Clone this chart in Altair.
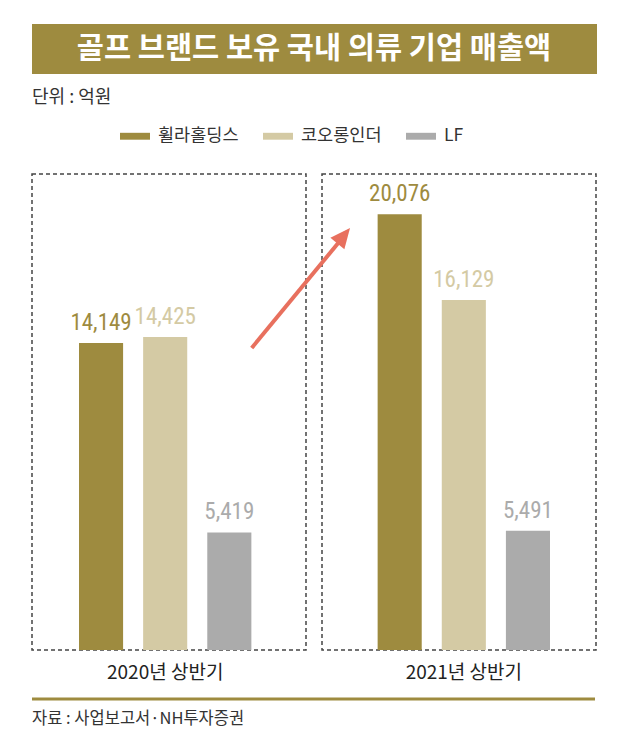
import altair as alt
import pandas as pd

# ---- data ----
periods = ["2020년 상반기", "2021년 상반기"]
companies = ["휠라홀딩스", "코오롱인더", "LF"]
sales_2020 = [14149, 14425, 5419]
sales_2021 = [20076, 16129, 5491]

title_text = "골프 브랜드 보유 국내 의류 기업 매출액"
unit_text = "단위 : 억원"
source_text = "자료 : 사업보고서·NH투자증권"

# ---- styles ----
bar_colors = ["#9e8b3f", "#d4caa4", "#ababab"]
OLIVE = "#9e8b3f"
FONT = "Noto Sans CJK KR"
NUM_FONT = "Roboto Condensed, Roboto, sans-serif"

rows = []
for p, vals in zip(periods, [sales_2020, sales_2021]):
    for c, v in zip(companies, vals):
        rows.append({"period": p, "company": c, "value": v, "label": f"{v:,}"})
df = pd.DataFrame(rows)
one = pd.DataFrame({"k": [0]})

x_enc = alt.X("period:N", sort=periods, axis=None,
              scale=alt.Scale(range=[71, 542], paddingInner=0.4228, paddingOuter=0))
xo_enc = alt.XOffset("company:N", sort=companies,
                     scale=alt.Scale(paddingInner=0.3125, paddingOuter=0))
y_enc = alt.Y("value:Q", axis=None,
              scale=alt.Scale(domain=[0, 20000], range=[642, 208]))
color_enc = alt.Color(
    "company:N", sort=companies,
    scale=alt.Scale(domain=companies, range=bar_colors),
    legend=alt.Legend(
        title=None, orient="none", legendX=112, legendY=113,
        direction="horizontal", symbolType="M-1,-0.23H1V0.23H-1Z",
        symbolSize=900, symbolStrokeWidth=0, symbolOpacity=1,
        labelFont=FONT, labelFontSize=17.5, labelColor="#333333",
        labelOffset=8, columnPadding=24,
    ),
)

bars = alt.Chart(df).mark_bar().encode(x=x_enc, xOffset=xo_enc, y=y_enc, color=color_enc)

labels = alt.Chart(df).mark_text(
    dy=-13, baseline="alphabetic", fontSize=23, font=NUM_FONT, fontWeight="normal"
).encode(x=x_enc, xOffset=xo_enc, y=y_enc, text="label:N", color=color_enc)

cats = alt.Chart(pd.DataFrame({"period": periods})).mark_text(
    fontSize=19, font=FONT, color="#222222", baseline="middle"
).encode(x=x_enc, y=alt.value(665), text="period:N")

banner = alt.Chart(one).mark_rect(color=OLIVE).encode(
    x=alt.value(24), x2=alt.value(589), y=alt.value(16), y2=alt.value(66))
title = alt.Chart(one).mark_text(
    text=title_text, font=FONT, fontSize=29.5, fontWeight="bold", color="white",
    align="center", baseline="middle"
).encode(x=alt.value(306), y=alt.value(41))

unit = alt.Chart(one).mark_text(
    text=unit_text, font=FONT, fontSize=18, color="#333333",
    align="left", baseline="middle"
).encode(x=alt.value(24), y=alt.value(90))

box1 = alt.Chart(one).mark_rect(
    fillOpacity=0, stroke="#444444", strokeWidth=1.5, strokeDash=[4, 3]
).encode(x=alt.value(24), x2=alt.value(298), y=alt.value(166), y2=alt.value(642))
box2 = alt.Chart(one).mark_rect(
    fillOpacity=0, stroke="#444444", strokeWidth=1.5, strokeDash=[4, 3]
).encode(x=alt.value(314), x2=alt.value(588), y=alt.value(166), y2=alt.value(642))

ARROW = "#e8705e"
arrow_line = alt.Chart(one).mark_rule(color=ARROW, strokeWidth=4).encode(
    x=alt.value(243.7), y=alt.value(340), x2=alt.value(336), y2=alt.value(228))
arrow_head = alt.Chart(one).mark_point(
    shape="M0,-1L0.9,1L-0.9,1Z", size=400, filled=True, opacity=1,
    color=ARROW, angle=39.2
).encode(x=alt.value(335.7), y=alt.value(227.7))

bottom_line = alt.Chart(one).mark_rule(color=OLIVE, strokeWidth=3).encode(
    x=alt.value(24), x2=alt.value(587), y=alt.value(691))
source = alt.Chart(one).mark_text(
    text=source_text, font=FONT, fontSize=16.5, color="#333333",
    align="left", baseline="middle"
).encode(x=alt.value(24), y=alt.value(711))

chart = alt.layer(
    banner, title, unit, box1, box2, bars, labels, cats,
    arrow_line, arrow_head, bottom_line, source
).properties(
    width=614, height=721, padding=0,
    autosize=alt.AutoSizeParams(type="none"),
).configure_view(strokeWidth=0)

chart.save("out.html", embed_options={"renderer": "svg", "actions": False})
